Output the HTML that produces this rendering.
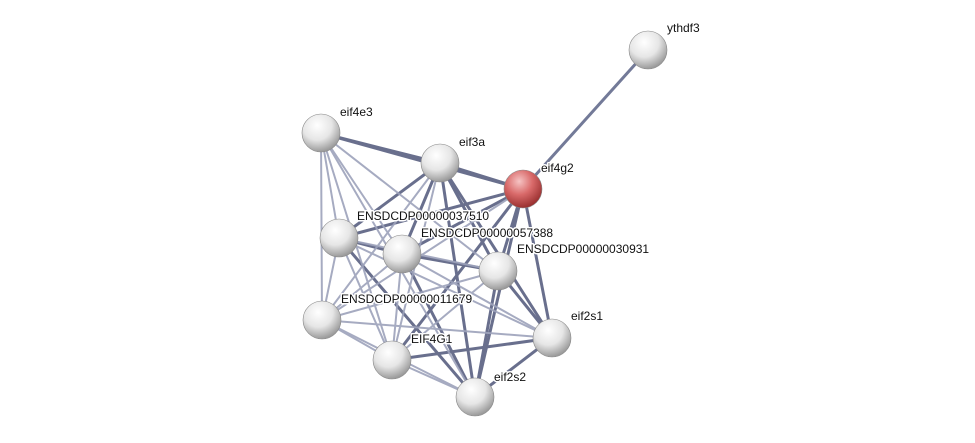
<!DOCTYPE html>
<html><head><meta charset="utf-8"><style>
html,body{margin:0;padding:0;background:#fff;width:975px;height:443px;overflow:hidden}
text{font-family:"Liberation Sans",sans-serif;font-size:12px;fill:#111;stroke:#fff;stroke-width:3px;paint-order:stroke;stroke-linejoin:round}
</style></head><body>
<svg width="975" height="443" viewBox="0 0 975 443" xmlns="http://www.w3.org/2000/svg">
<defs>
<radialGradient id="w" cx="40%" cy="30%" r="70%">
<stop offset="0" stop-color="#ffffff"/><stop offset="0.55" stop-color="#e6e6e6"/><stop offset="1" stop-color="#9a9a9a"/>
</radialGradient>
<radialGradient id="r" cx="40%" cy="30%" r="70%">
<stop offset="0" stop-color="#f6c4c4"/><stop offset="0.5" stop-color="#d96a6a"/><stop offset="1" stop-color="#9a3030"/>
</radialGradient>
</defs>
<g stroke-linecap="round">
<line x1="523" y1="189" x2="648" y2="50" stroke="#737a98" stroke-width="3"/>
<g stroke="#4f577a" stroke-width="3" opacity="0.85">
<line x1="321" y1="133" x2="440" y2="163"/>
<line x1="321" y1="133" x2="523" y2="189"/>
<line x1="440" y1="163" x2="523" y2="189"/>
<line x1="440" y1="163" x2="339" y2="238"/>
<line x1="440" y1="163" x2="402" y2="254"/>
<line x1="440" y1="163" x2="498" y2="271"/>
<line x1="440" y1="163" x2="475" y2="397"/>
<line x1="440" y1="163" x2="552" y2="338"/>
<line x1="523" y1="189" x2="339" y2="238"/>
<line x1="523" y1="189" x2="402" y2="254"/>
<line x1="523" y1="189" x2="498" y2="271"/>
<line x1="523" y1="189" x2="392" y2="360"/>
<line x1="523" y1="189" x2="475" y2="397"/>
<line x1="523" y1="189" x2="552" y2="338"/>
<line x1="339" y1="238" x2="402" y2="254"/>
<line x1="402" y1="254" x2="498" y2="271"/>
<line x1="402" y1="254" x2="475" y2="397"/>
<line x1="498" y1="271" x2="552" y2="338"/>
<line x1="498" y1="271" x2="475" y2="397"/>
<line x1="552" y1="338" x2="475" y2="397"/>
<line x1="552" y1="338" x2="392" y2="360"/>
<line x1="339" y1="238" x2="475" y2="397"/>
</g>
<g stroke="#9da2bb" stroke-width="2" opacity="0.9">
<line x1="321" y1="133" x2="339" y2="238"/>
<line x1="321" y1="133" x2="402" y2="254"/>
<line x1="321" y1="133" x2="322" y2="320"/>
<line x1="321" y1="133" x2="392" y2="360"/>
<line x1="321" y1="133" x2="498" y2="271"/>
<line x1="321" y1="133" x2="475" y2="397"/>
<line x1="440" y1="163" x2="322" y2="320"/>
<line x1="440" y1="163" x2="392" y2="360"/>
<line x1="339" y1="238" x2="322" y2="320"/>
<line x1="339" y1="238" x2="392" y2="360"/>
<line x1="339" y1="238" x2="498" y2="271"/>
<line x1="339" y1="238" x2="552" y2="338"/>
<line x1="402" y1="254" x2="322" y2="320"/>
<line x1="402" y1="254" x2="392" y2="360"/>
<line x1="402" y1="254" x2="552" y2="338"/>
<line x1="498" y1="271" x2="322" y2="320"/>
<line x1="498" y1="271" x2="392" y2="360"/>
<line x1="322" y1="320" x2="392" y2="360"/>
<line x1="322" y1="320" x2="475" y2="397"/>
<line x1="322" y1="320" x2="552" y2="338"/>
<line x1="392" y1="360" x2="475" y2="397"/>
<line x1="523" y1="189" x2="322" y2="320"/>
</g>
</g>
<g stroke="#888" stroke-width="0.6">
<circle cx="648" cy="50" r="19" fill="url(#w)"/>
<circle cx="321" cy="133" r="19" fill="url(#w)"/>
<circle cx="440" cy="163" r="19" fill="url(#w)"/>
<circle cx="523" cy="189" r="19" fill="url(#r)"/>
<circle cx="339" cy="238" r="19" fill="url(#w)"/>
<circle cx="402" cy="254" r="19" fill="url(#w)"/>
<circle cx="498" cy="271" r="19" fill="url(#w)"/>
<circle cx="322" cy="320" r="19" fill="url(#w)"/>
<circle cx="392" cy="360" r="19" fill="url(#w)"/>
<circle cx="552" cy="338" r="19" fill="url(#w)"/>
<circle cx="475" cy="397" r="19" fill="url(#w)"/>
</g>
<text x="667" y="32">ythdf3</text>
<text x="340" y="116">eif4e3</text>
<text x="459" y="146">eif3a</text>
<text x="541" y="172">eif4g2</text>
<text x="357" y="220">ENSDCDP00000037510</text>
<text x="421" y="237">ENSDCDP00000057388</text>
<text x="517" y="253">ENSDCDP00000030931</text>
<text x="341" y="303">ENSDCDP00000011679</text>
<text x="411" y="343">EIF4G1</text>
<text x="571" y="320">eif2s1</text>
<text x="494" y="381">eif2s2</text>
</svg>
</body></html>
